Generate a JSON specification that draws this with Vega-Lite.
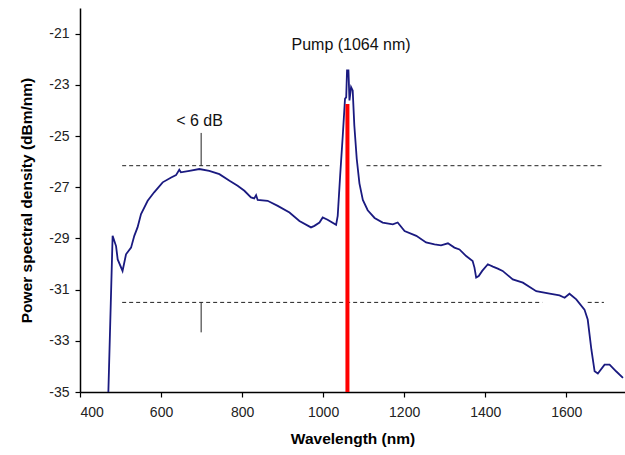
{
  "$schema": "https://vega.github.io/schema/vega-lite/v6.json",
  "width": 545,
  "height": 384,
  "autosize": "none",
  "padding": {"left": 80, "top": 8, "right": 0, "bottom": 63},
  "background": "white",
  "config": {
    "view": {"stroke": null},
    "axis": {
      "grid": false,
      "domainColor": "black",
      "domainWidth": 1.5,
      "tickColor": "black",
      "tickWidth": 1.2,
      "tickSize": 5,
      "labelFont": "Liberation Sans",
      "labelFontSize": 14,
      "labelColor": "#222222",
      "titleFont": "Liberation Sans",
      "titleFontSize": 15.5,
      "titleFontWeight": "bold",
      "titleColor": "black"
    }
  },
  "datasets": {
    "curve": [
      {"wl": 470, "p": -35.0},
      {"wl": 476, "p": -31.5},
      {"wl": 480.5, "p": -28.9},
      {"wl": 489, "p": -29.3},
      {"wl": 493, "p": -29.82},
      {"wl": 505, "p": -30.27},
      {"wl": 513.6, "p": -29.62},
      {"wl": 526, "p": -29.36},
      {"wl": 534, "p": -28.9},
      {"wl": 542, "p": -28.57},
      {"wl": 550.6, "p": -28.05},
      {"wl": 567, "p": -27.53},
      {"wl": 583, "p": -27.2},
      {"wl": 604, "p": -26.81},
      {"wl": 625, "p": -26.62},
      {"wl": 637, "p": -26.53},
      {"wl": 645, "p": -26.32},
      {"wl": 649, "p": -26.42},
      {"wl": 670, "p": -26.36},
      {"wl": 694.5, "p": -26.29},
      {"wl": 719, "p": -26.36},
      {"wl": 744, "p": -26.49},
      {"wl": 769, "p": -26.75},
      {"wl": 789, "p": -26.94},
      {"wl": 805.7, "p": -27.14},
      {"wl": 822, "p": -27.4},
      {"wl": 830, "p": -27.44},
      {"wl": 834.6, "p": -27.31},
      {"wl": 838.5, "p": -27.5},
      {"wl": 863, "p": -27.53},
      {"wl": 888, "p": -27.73},
      {"wl": 917, "p": -27.99},
      {"wl": 941.5, "p": -28.32},
      {"wl": 970, "p": -28.57},
      {"wl": 978.5, "p": -28.51},
      {"wl": 991, "p": -28.38},
      {"wl": 999, "p": -28.18},
      {"wl": 1011, "p": -28.27},
      {"wl": 1032, "p": -28.47},
      {"wl": 1036, "p": -28.12},
      {"wl": 1042, "p": -26.55},
      {"wl": 1048.5, "p": -24.98},
      {"wl": 1054, "p": -23.55},
      {"wl": 1057, "p": -23.48},
      {"wl": 1059, "p": -22.44},
      {"wl": 1062.5, "p": -22.44},
      {"wl": 1065, "p": -23.61},
      {"wl": 1069, "p": -23.09},
      {"wl": 1073, "p": -23.22},
      {"wl": 1077, "p": -24.59},
      {"wl": 1083, "p": -25.9},
      {"wl": 1089.6, "p": -26.85},
      {"wl": 1098, "p": -27.5},
      {"wl": 1110, "p": -27.9},
      {"wl": 1127, "p": -28.2},
      {"wl": 1147, "p": -28.38},
      {"wl": 1172, "p": -28.45},
      {"wl": 1184, "p": -28.38},
      {"wl": 1201, "p": -28.71},
      {"wl": 1230, "p": -28.9},
      {"wl": 1254, "p": -29.16},
      {"wl": 1275, "p": -29.23},
      {"wl": 1291, "p": -29.27},
      {"wl": 1308, "p": -29.19},
      {"wl": 1324, "p": -29.36},
      {"wl": 1336.5, "p": -29.43},
      {"wl": 1353, "p": -29.69},
      {"wl": 1369, "p": -29.88},
      {"wl": 1373.5, "p": -30.14},
      {"wl": 1377.7, "p": -30.53},
      {"wl": 1384, "p": -30.47},
      {"wl": 1392.6, "p": -30.27},
      {"wl": 1406.5, "p": -30.01},
      {"wl": 1419, "p": -30.1},
      {"wl": 1431, "p": -30.18},
      {"wl": 1443, "p": -30.27},
      {"wl": 1468, "p": -30.6},
      {"wl": 1493, "p": -30.73},
      {"wl": 1526, "p": -31.06},
      {"wl": 1559, "p": -31.16},
      {"wl": 1583.5, "p": -31.23},
      {"wl": 1596, "p": -31.32},
      {"wl": 1608, "p": -31.16},
      {"wl": 1624.7, "p": -31.38},
      {"wl": 1645, "p": -31.78},
      {"wl": 1653, "p": -32.17},
      {"wl": 1662, "p": -33.34},
      {"wl": 1670, "p": -34.19},
      {"wl": 1678, "p": -34.28},
      {"wl": 1694.6, "p": -33.93},
      {"wl": 1707, "p": -33.93},
      {"wl": 1723, "p": -34.19},
      {"wl": 1740, "p": -34.45}
    ],
    "dashes": [
      {"wl": 504, "wl2": 1015, "p": -26.16},
      {"wl": 1107, "wl2": 1690, "p": -26.16},
      {"wl": 504, "wl2": 1541, "p": -31.5},
      {"wl": 1653, "wl2": 1693, "p": -31.5}
    ],
    "ticks": [
      {"wl": 699, "p": -24.88, "p2": -26.16},
      {"wl": 699, "p": -31.5, "p2": -32.67}
    ],
    "pump": [
      {"wl": 1060, "p": -35, "p2": -23.75}
    ],
    "labels": [
      {"wl": 695, "p": -24.4, "label": "< 6 dB"},
      {"wl": 1069, "p": -21.46, "label": "Pump (1064 nm)"}
    ]
  },
  "layer": [
    {
      "data": {"name": "curve"},
      "mark": {"type": "line", "color": "#1a1a80", "strokeWidth": 1.8, "clip": true},
      "encoding": {
        "x": {"field": "wl", "type": "quantitative", "title": "Wavelength (nm)",
              "scale": {"domain": [400, 1745], "nice": false, "zero": false},
              "axis": {"values": [400, 600, 800, 1000, 1200, 1400, 1600], "labelExpr": "toString(datum.value)", "labelPadding": 8, "titlePadding": 12}},
        "y": {"field": "p", "type": "quantitative", "title": "Power spectral density (dBm/nm)",
              "scale": {"domain": [-35, -20], "nice": false, "zero": false},
              "axis": {"values": [-35, -33, -31, -29, -27, -25, -23, -21], "labelExpr": "toString(datum.value)", "labelPadding": 6, "titlePadding": 14}}
      }
    },
    {
      "data": {"name": "dashes"},
      "mark": {"type": "rule", "color": "#222222", "strokeWidth": 1, "strokeDash": [4, 3]},
      "encoding": {
        "x": {"field": "wl", "type": "quantitative", "title": "Wavelength (nm)"},
        "x2": {"field": "wl2"},
        "y": {"field": "p", "type": "quantitative", "title": "Power spectral density (dBm/nm)"}
      }
    },
    {
      "data": {"name": "ticks"},
      "mark": {"type": "rule", "color": "#222222", "strokeWidth": 1},
      "encoding": {
        "x": {"field": "wl", "type": "quantitative", "title": "Wavelength (nm)"},
        "y": {"field": "p", "type": "quantitative", "title": "Power spectral density (dBm/nm)"},
        "y2": {"field": "p2"}
      }
    },
    {
      "data": {"name": "pump"},
      "mark": {"type": "rule", "color": "#ff0000", "strokeWidth": 4},
      "encoding": {
        "x": {"field": "wl", "type": "quantitative", "title": "Wavelength (nm)"},
        "y": {"field": "p", "type": "quantitative", "title": "Power spectral density (dBm/nm)"},
        "y2": {"field": "p2"}
      }
    },
    {
      "data": {"name": "labels"},
      "mark": {"type": "text", "font": "Liberation Sans", "fontSize": 16, "color": "#111111", "align": "center", "baseline": "middle"},
      "encoding": {
        "x": {"field": "wl", "type": "quantitative", "title": "Wavelength (nm)"},
        "y": {"field": "p", "type": "quantitative", "title": "Power spectral density (dBm/nm)"},
        "text": {"field": "label"}
      }
    }
  ]
}
